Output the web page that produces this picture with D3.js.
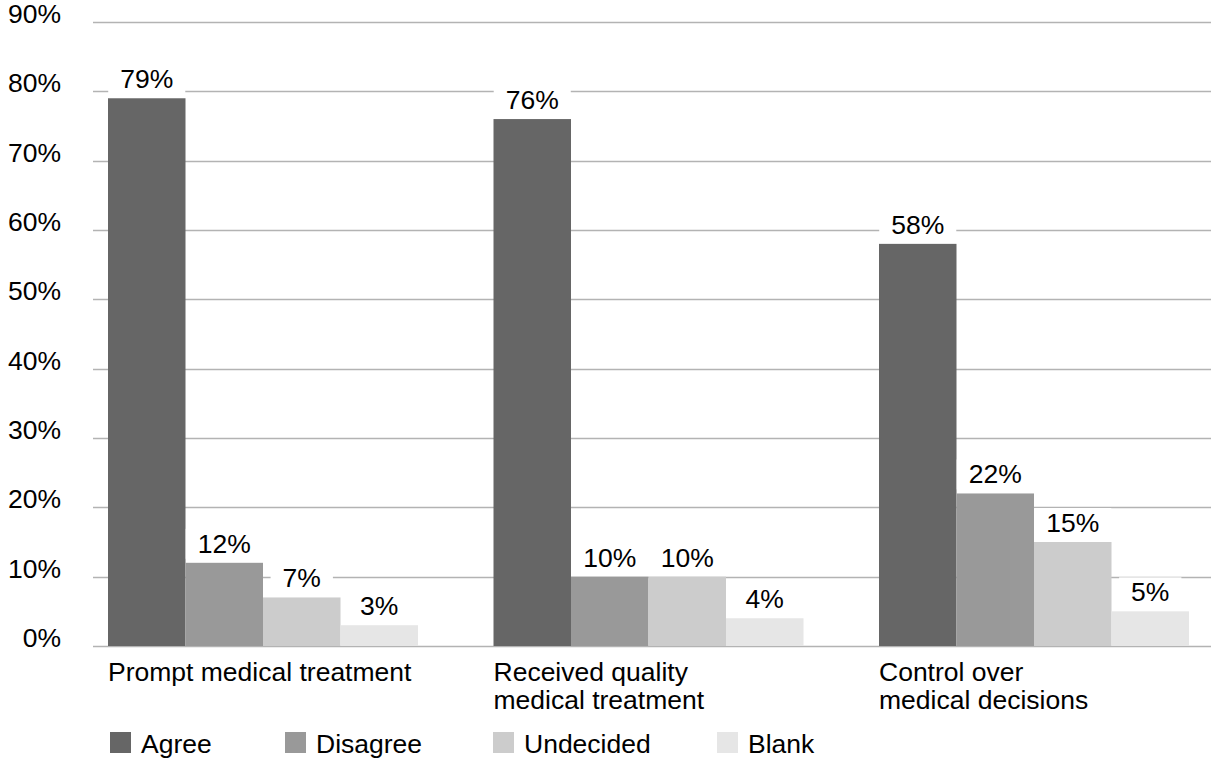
<!DOCTYPE html>
<html lang="en">
<head>
<meta charset="utf-8">
<script src="https://d3js.org/d3.v7.min.js"></script>
<style>
  body { margin: 0; background: #fff; }
  text { font-family: "Liberation Sans", Arial, Helvetica, sans-serif; fill: #000; }
</style>
</head>
<body>
<script>
// chart data
const categories = ["Prompt medical treatment", "Received quality medical treatment", "Control over medical decisions"];
const categoryLines = [["Prompt medical treatment"], ["Received quality", "medical treatment"], ["Control over", "medical decisions"]];
const series = ["Agree", "Disagree", "Undecided", "Blank"];
const agree = [79, 76, 58];
const disagree = [12, 10, 22];
const undecided = [7, 10, 15];
const blank = [3, 4, 5];
const yTicks = [0, 10, 20, 30, 40, 50, 60, 70, 80, 90];
const colors = ["#666666", "#999999", "#cccccc", "#e6e6e6"];

const values = [agree, disagree, undecided, blank];

const width = 1211, height = 759;
const fontSize = 26.5;

const svg = d3.select("body").append("svg")
  .attr("width", width)
  .attr("height", height);

const y = d3.scaleLinear().domain([0, 90]).range([646, 22]);

// category bands (the last one runs past the right edge, as in the original)
const x0 = d3.scaleBand().domain(categories).range([93, 1249.5]);
const x1 = d3.scaleBand().domain(series).range([15, 325]);

// gridlines
svg.append("g")
  .selectAll("line")
  .data(yTicks)
  .join("line")
  .attr("x1", 93)
  .attr("x2", width)
  .attr("y1", d => Math.round(y(d)) + 0.5)
  .attr("y2", d => Math.round(y(d)) + 0.5)
  .attr("stroke", "#b3b3b3")
  .attr("stroke-width", 1.3);

// y labels
svg.append("g")
  .selectAll("text")
  .data(yTicks)
  .join("text")
  .attr("x", 61)
  .attr("y", d => y(d) + 1)
  .attr("text-anchor", "end")
  .attr("font-size", fontSize)
  .text(d => d + "%");

// bars
const rows = [];
categories.forEach((c, i) => {
  series.forEach((s, j) => {
    rows.push({cat: c, ser: s, value: values[j][i], color: colors[j]});
  });
});

svg.append("g")
  .selectAll("rect")
  .data(rows)
  .join("rect")
  .attr("x", d => x0(d.cat) + x1(d.ser))
  .attr("y", d => y(d.value))
  .attr("width", x1.bandwidth())
  .attr("height", d => y(0) - y(d.value))
  .attr("fill", d => d.color);

// value labels with white backing
const lab = svg.append("g")
  .selectAll("g")
  .data(rows)
  .join("g");

lab.append("text")
  .attr("x", d => x0(d.cat) + x1(d.ser) + x1.bandwidth() / 2)
  .attr("y", d => y(d.value) - 10)
  .attr("text-anchor", "middle")
  .attr("font-size", fontSize)
  .text(d => d.value + "%")
  .each(function(d) {
    const b = this.getBBox();
    d3.select(this.parentNode).insert("rect", "text")
      .attr("x", b.x - 12)
      .attr("y", b.y)
      .attr("width", b.width + 24)
      .attr("height", y(d.value) - b.y - 4)
      .attr("fill", "#fff");
  });

// category labels
const catLab = svg.append("g")
  .selectAll("text")
  .data(categories)
  .join("text")
  .attr("x", d => x0(d) + 15)
  .attr("y", 681)
  .attr("font-size", fontSize);

catLab.selectAll("tspan")
  .data((d, i) => categoryLines[i])
  .join("tspan")
  .attr("x", function() { return d3.select(this.parentNode).attr("x"); })
  .attr("dy", (d, i) => i === 0 ? 0 : 28)
  .text(d => d);

// legend
const legendX = [110, 285, 493, 717];
const leg = svg.append("g")
  .selectAll("g")
  .data(series)
  .join("g")
  .attr("transform", (d, i) => `translate(${legendX[i]},732)`);

leg.append("rect")
  .attr("width", 21)
  .attr("height", 21)
  .attr("fill", (d, i) => colors[i]);

leg.append("text")
  .attr("x", 31)
  .attr("y", 21)
  .attr("font-size", fontSize)
  .text(d => d);
</script>
</body>
</html>
